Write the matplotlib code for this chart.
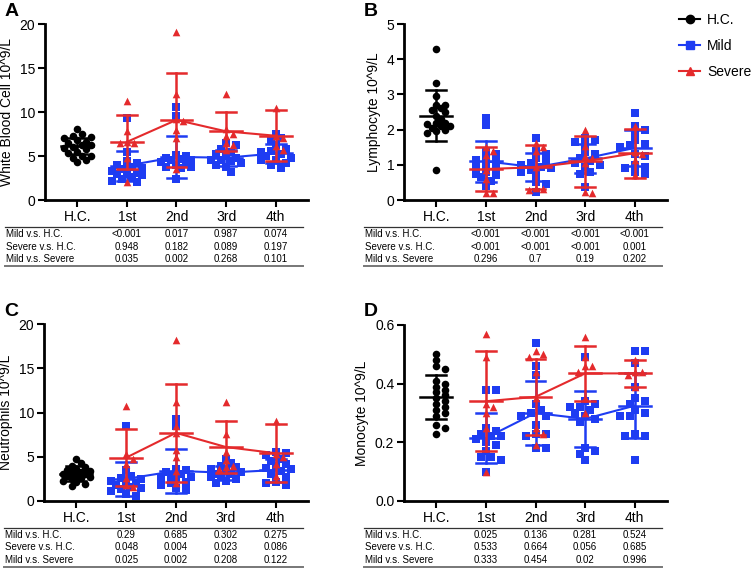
import matplotlib
matplotlib.use("Agg")
import matplotlib.pyplot as plt
import matplotlib.transforms as mtransforms
from matplotlib.lines import Line2D
import numpy as np

plt.rcParams['font.family'] = ['Liberation Sans', 'DejaVu Sans']

BLUE = '#1e3cf2'
RED = '#e42a2c'

groups = ["H.C.", "1st", "2nd", "3rd", "4th"]
row_labels = ["Mild v.s. H.C.", "Severe v.s. H.C.", "Mild v.s. Severe"]

# ---- Panel A: White blood cell ----
wbc_hc = [7.5, 7.2, 7.0, 6.8, 6.5, 6.3, 6.0, 5.8, 5.5, 5.3, 5.0, 4.8, 4.5, 4.3, 8.1, 6.2, 6.6, 5.9, 7.3, 5.0]
wbc_mild = [
    [9.3, 5.5, 4.2, 4.0, 3.8, 3.5, 3.3, 3.0, 2.8, 2.6, 2.4, 2.2, 2.0, 3.6, 4.4, 3.1, 2.9],
    [10.6, 9.5, 5.0, 4.8, 4.5, 4.3, 4.0, 3.8, 3.6, 2.4, 4.7, 5.1, 3.7, 4.2, 4.6],
    [6.5, 6.2, 5.8, 5.5, 5.0, 4.8, 4.6, 4.5, 4.2, 4.0, 3.7, 3.2, 5.2, 4.4],
    [7.5, 7.0, 6.8, 6.2, 5.8, 5.5, 5.2, 5.0, 4.8, 4.5, 4.2, 4.0, 3.6, 5.6, 4.6],
]
wbc_severe = [
    [11.3, 7.8, 6.6, 6.5, 4.8, 2.1, 6.5],
    [19.1, 12.0, 9.2, 7.9, 7.0, 3.5, 9.0],
    [12.0, 8.1, 7.5, 7.3, 6.5, 6.2, 5.7],
    [10.4, 7.1, 6.1, 5.7, 7.3],
]
wbc_mean = {"hc": 6.1, "mild": [3.9, 4.9, 4.8, 5.3], "severe": [6.6, 9.1, 7.8, 7.3]}
wbc_sd = {"hc": 0.9, "mild": [1.7, 2.4, 0.9, 1.1], "severe": [3.1, 5.3, 2.2, 2.9]}
wbc_p = [["<0.001", "0.017", "0.987", "0.074"],
         ["0.948", "0.182", "0.089", "0.197"],
         ["0.035", "0.002", "0.268", "0.101"]]

# ---- Panel B: Lymphocyte ----
lym_hc = [4.28, 3.33, 2.95, 2.7, 2.7, 2.6, 2.55, 2.5, 2.4, 2.3, 2.2, 2.15, 2.1, 2.05, 2.0, 1.95, 1.9, 2.1, 0.85, 2.2]
lym_mild = [
    [2.33, 2.12, 1.4, 1.3, 1.2, 1.1, 1.0, 0.95, 0.8, 0.75, 0.7, 0.65, 0.55, 0.4, 1.15, 0.9],
    [1.76, 1.4, 1.3, 1.2, 1.1, 1.0, 0.95, 0.9, 0.85, 0.8, 0.7, 0.5, 0.45, 0.22, 1.05],
    [1.75, 1.7, 1.65, 1.55, 1.35, 1.2, 1.1, 1.05, 1.0, 0.95, 0.8, 0.75, 0.37, 1.3],
    [2.48, 2.1, 2.0, 1.9, 1.7, 1.55, 1.5, 1.3, 1.25, 1.0, 0.95, 0.9, 0.8, 0.75, 1.6],
]
lym_severe = [
    [1.5, 1.38, 1.28, 0.85, 0.6, 0.2, 0.2],
    [1.62, 1.5, 1.4, 0.95, 0.35, 0.3, 0.28],
    [2.0, 1.52, 1.25, 1.2, 1.05, 0.22, 0.2],
    [2.1, 1.35, 1.15, 0.7, 1.3],
]
lym_mean = {"hc": 2.4, "mild": [1.1, 0.93, 1.18, 1.48], "severe": [0.88, 0.93, 1.1, 1.33]}
lym_sd = {"hc": 0.72, "mild": [0.58, 0.4, 0.4, 0.5], "severe": [0.63, 0.62, 0.72, 0.7]}
lym_p = [["<0.001", "<0.001", "<0.001", "<0.001"],
         ["<0.001", "<0.001", "<0.001", "0.001"],
         ["0.296", "0.7", "0.19", "0.202"]]

# ---- Panel C: Neutrophils ----
neu_hc = [4.8, 4.3, 4.0, 3.8, 3.6, 3.5, 3.3, 3.2, 3.0, 2.9, 2.8, 2.6, 2.5, 2.3, 2.1, 1.9, 1.7, 3.4, 3.1, 2.7]
neu_mild = [
    [8.5, 3.5, 2.8, 2.5, 2.3, 2.2, 2.0, 1.8, 1.5, 1.3, 1.1, 0.8, 0.6, 2.6, 1.6],
    [9.3, 8.5, 3.5, 3.3, 3.0, 2.8, 2.6, 2.5, 2.2, 2.0, 1.8, 1.5, 1.2, 3.6, 2.7],
    [4.8, 4.3, 4.0, 3.8, 3.5, 3.3, 3.0, 2.8, 2.5, 2.3, 2.0, 2.7, 3.1, 3.6],
    [5.5, 5.4, 5.2, 4.8, 4.5, 4.2, 4.0, 3.7, 3.4, 3.0, 2.7, 2.2, 2.0, 1.8, 3.6],
]
neu_severe = [
    [10.7, 5.3, 4.8, 4.2, 2.6, 1.8, 1.6],
    [18.2, 11.2, 8.5, 5.8, 5.0, 3.4, 2.0, 7.7],
    [11.2, 7.6, 5.5, 4.6, 4.0, 3.8, 3.6],
    [9.0, 5.3, 4.2, 2.8, 5.0],
]
neu_mean = {"hc": 3.1, "mild": [2.5, 3.4, 3.2, 3.5], "severe": [4.9, 7.7, 6.1, 5.4]}
neu_sd = {"hc": 0.8, "mild": [1.9, 2.5, 0.8, 1.3], "severe": [3.2, 5.5, 2.9, 3.3]}
neu_p = [["0.29", "0.685", "0.302", "0.275"],
         ["0.048", "0.004", "0.023", "0.086"],
         ["0.025", "0.002", "0.208", "0.122"]]

# ---- Panel D: Monocyte ----
mon_hc = [0.5, 0.48, 0.46, 0.45, 0.41, 0.4, 0.39, 0.38, 0.37, 0.36, 0.35, 0.33, 0.32, 0.31, 0.3, 0.29, 0.26, 0.25, 0.23, 0.34]
mon_mild = [
    [0.38, 0.38, 0.25, 0.24, 0.23, 0.22, 0.2, 0.19, 0.17, 0.15, 0.15, 0.14, 0.1, 0.22, 0.21],
    [0.54, 0.46, 0.43, 0.33, 0.3, 0.29, 0.26, 0.23, 0.23, 0.22, 0.18, 0.18, 0.29, 0.31],
    [0.49, 0.34, 0.33, 0.32, 0.31, 0.3, 0.29, 0.28, 0.27, 0.18, 0.17, 0.16, 0.14, 0.32],
    [0.51, 0.51, 0.47, 0.39, 0.35, 0.34, 0.33, 0.31, 0.3, 0.29, 0.29, 0.23, 0.22, 0.22, 0.14],
]
mon_severe = [
    [0.57, 0.49, 0.33, 0.32, 0.3, 0.25, 0.1],
    [0.51, 0.5, 0.44, 0.35, 0.25, 0.23, 0.19, 0.49],
    [0.56, 0.49, 0.46, 0.46, 0.35, 0.3, 0.44],
    [0.48, 0.44, 0.43, 0.39, 0.44],
]
mon_mean = {"hc": 0.355, "mild": [0.215, 0.3, 0.28, 0.325], "severe": [0.34, 0.355, 0.435, 0.435]}
mon_sd = {"hc": 0.075, "mild": [0.085, 0.11, 0.095, 0.11], "severe": [0.17, 0.13, 0.095, 0.045]}
mon_p = [["0.025", "0.136", "0.281", "0.524"],
         ["0.533", "0.664", "0.056", "0.685"],
         ["0.333", "0.454", "0.02", "0.996"]]

W, H = 754, 569
fig = plt.figure(figsize=(W / 100, H / 100), dpi=100)

XMIN, XMAX = -0.65, 4.65


def swarm(vals, ypx, xpx, d=6.0, step=5.0, kmax=3):
    """compact beeswarm offsets (data units); overlap allowed beyond kmax"""
    order = np.argsort(vals)[::-1]
    placed = []
    offs = np.zeros(len(vals))
    cands = [0]
    for k in range(1, kmax + 1):
        cands += [k, -k]
    for i in order:
        y = vals[i] * ypx
        best, best_gap = 0, -1
        for k in cands:
            x = k * step
            gap = min([np.hypot(x - px, y - py) for px, py in placed] + [1e9])
            if gap >= d:
                best = x
                break
            if gap > best_gap + 1e-6:
                best, best_gap = x, gap
        placed.append((best, y))
        offs[i] = best / xpx
    return offs


def mean_sd(ax, x, m, s, color, hw=0.32, cw=0.2):
    ax.plot([x - hw, x + hw], [m, m], color=color, lw=1.8, zorder=5)
    ax.plot([x, x], [m - s, m + s], color=color, lw=1.8, zorder=5)
    for yy in (m - s, m + s):
        ax.plot([x - cw, x + cw], [yy, yy], color=color, lw=1.8, zorder=5)


def panel(rect, letter, ylabel, ymax, yticks, yfmt, hc, mild, severe, mean, sd, pvals):
    l, b, w, h = rect
    ax = fig.add_axes([l / W, 1 - (b + h) / H, w / W, h / H])
    ax.set_xlim(XMIN, XMAX)
    ax.set_ylim(0, ymax)
    xpx = w / (XMAX - XMIN)
    ypx = h / ymax

    hc = np.array(hc)
    ax.scatter(np.zeros(len(hc)) + swarm(hc, ypx, xpx, 5.5, 4.5, 3), hc, s=30, marker='o',
               color='black', linewidths=0, zorder=3, clip_on=False)
    mean_sd(ax, 0, mean["hc"], sd["hc"], 'black')

    for i in range(4):
        v = np.array(mild[i])
        ax.scatter(i + 1 + swarm(v, ypx, xpx, 6.5, 5.0, 3), v, s=36, marker='s',
                   color=BLUE, linewidths=0, zorder=3, clip_on=False)
        mean_sd(ax, i + 1, mean["mild"][i], sd["mild"][i], BLUE)
    ax.plot([1, 2, 3, 4], mean["mild"], color=BLUE, lw=1.5, zorder=4)

    for i in range(4):
        v = np.array(severe[i])
        ax.scatter(i + 1 + swarm(v, ypx, xpx, 6.5, 7.0, 2), v, s=30, marker='^',
                   color=RED, linewidths=0, zorder=6, clip_on=False)
        mean_sd(ax, i + 1, mean["severe"][i], sd["severe"][i], RED)
    ax.plot([1, 2, 3, 4], mean["severe"], color=RED, lw=1.5, zorder=6)

    for sp in ['top', 'right']:
        ax.spines[sp].set_visible(False)
    for sp in ['left', 'bottom']:
        ax.spines[sp].set_linewidth(2)
    ax.set_xticks(range(5))
    ax.set_xticklabels(groups, fontsize=10)
    ax.set_yticks(yticks)
    ax.set_yticklabels([yfmt.format(t) for t in yticks], fontsize=10)
    ax.tick_params(width=1.5, length=5, pad=2)
    ax.set_ylabel(ylabel, fontsize=10, labelpad=4)

    # p value table below the axis
    tr = mtransforms.blended_transform_factory(ax.transData, ax.transAxes)
    fy = lambda px: -px / h
    x0 = XMIN - 40 / xpx
    x1 = XMAX - 5 / xpx
    ax.plot([x0, x1], [fy(27), fy(27)], transform=tr, color='#333333', lw=0.9, clip_on=False)
    ax.plot([x0, x1], [fy(66), fy(66)], transform=tr, color='#777777', lw=1.4, clip_on=False)
    for r, (lab, row) in enumerate(zip(row_labels, pvals)):
        yy = fy(34 + 12.5 * r)
        ax.text(x0 + 1 / xpx, yy, lab, transform=tr, fontsize=7, ha='left', va='center')
        for j, p in enumerate(row):
            ax.text(j + 1, yy, p, transform=tr, fontsize=7, ha='center', va='center')

    fig.text((l - 40) / W, 1 - (b - 13) / H, letter, fontsize=14, fontweight='bold',
             ha='left', va='center')
    return ax


panel((45, 24, 263, 176), "A", "White Blood Cell 10^9/L", 20, [0, 5, 10, 15, 20], "{:g}",
      wbc_hc, wbc_mild, wbc_severe, wbc_mean, wbc_sd, wbc_p)
panel((404, 24, 263, 176), "B", "Lymphocyte 10^9/L", 5, [0, 1, 2, 3, 4, 5], "{:g}",
      lym_hc, lym_mild, lym_severe, lym_mean, lym_sd, lym_p)
panel((44, 324, 264, 177), "C", "Neutrophils 10^9/L", 20, [0, 5, 10, 15, 20], "{:g}",
      neu_hc, neu_mild, neu_severe, neu_mean, neu_sd, neu_p)
panel((404, 325, 263, 176), "D", "Monocyte 10^9/L", 0.6, [0, 0.2, 0.4, 0.6], "{:.1f}",
      mon_hc, mon_mild, mon_severe, mon_mean, mon_sd, mon_p)

handles = [Line2D([], [], color='black', marker='o', markersize=6, lw=1.5),
           Line2D([], [], color=BLUE, marker='s', markersize=6, lw=1.5),
           Line2D([], [], color=RED, marker='^', markersize=6, lw=1.5)]
fig.legend(handles, ["H.C.", "Mild", "Severe"], loc='upper left',
           bbox_to_anchor=(668 / W, 1 - 2 / H), frameon=False, fontsize=10,
           handlelength=1.5, handletextpad=0.5, labelspacing=0.85, borderpad=0.3)

fig.savefig("out.png", dpi=100)
